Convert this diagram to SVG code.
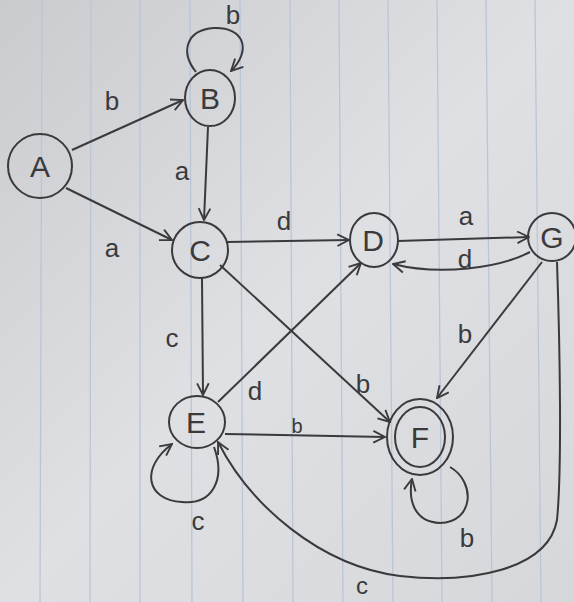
<svg xmlns="http://www.w3.org/2000/svg" width="574" height="602" viewBox="0 0 574 602">
<defs>
<linearGradient id="bg" x1="0" y1="0" x2="1" y2="1">
<stop offset="0" stop-color="#c9cbcf"/>
<stop offset="0.5" stop-color="#dfe0e3"/>
<stop offset="1" stop-color="#d6d7da"/>
</linearGradient>
<marker id="arr" viewBox="0 0 12 12" refX="11" refY="6" markerWidth="14" markerHeight="14" markerUnits="userSpaceOnUse" orient="auto">
<path d="M1,1 L11,6 L1,11" fill="none" stroke="#3a3a3c" stroke-width="1.6"/>
</marker>
<style>
.n{fill:none;stroke:#3a3a3c;stroke-width:2}
.e{fill:none;stroke:#3a3a3c;stroke-width:2;marker-end:url(#arr)}
.t{font-family:"Liberation Sans",Arial,sans-serif;fill:#3a3a3c;text-anchor:middle}
.nl{font-size:30px}
.el{font-size:26px}
.pl{stroke:#b9c6d6;stroke-width:1.3}
</style>
</defs>
<rect width="574" height="602" fill="url(#bg)"/>
<g id="paper-lines">
<line class="pl" x1="42" y1="0" x2="40" y2="602"/>
<line class="pl" x1="91" y1="0" x2="90" y2="602"/>
<line class="pl" x1="140" y1="0" x2="140" y2="602"/>
<line class="pl" x1="190" y1="0" x2="192" y2="602"/>
<line class="pl" x1="240" y1="0" x2="243" y2="602"/>
<line class="pl" x1="290" y1="0" x2="293" y2="602"/>
<line class="pl" x1="339" y1="0" x2="343" y2="602"/>
<line class="pl" x1="388" y1="0" x2="393" y2="602"/>
<line class="pl" x1="437" y1="0" x2="442" y2="602"/>
<line class="pl" x1="486" y1="0" x2="492" y2="602"/>
<line class="pl" x1="535" y1="0" x2="541" y2="602"/>
</g>
<g id="connectors">
<path class="e" d="M72,150 L183,100"/>
<path class="e" d="M66,188 L172,240"/>
<path class="e" d="M208,127 L204,220"/>
<path class="e" d="M196,72 C180,52 186,30 214,28 C244,27 252,50 231,71"/>
<path class="e" d="M227,242 L349,240"/>
<path class="e" d="M202,278 L203,395"/>
<path class="e" d="M220,265 L390,422"/>
<path class="e" d="M398,241 L529,237"/>
<path class="e" d="M530,252 C500,268 440,276 393,264"/>
<path class="e" d="M218,402 L361,263"/>
<path class="e" d="M225,434 L385,437"/>
<path class="e" d="M542,262 L437,398"/>
<path class="e" d="M557,262 C560,350 562,470 557,520 C548,570 470,584 400,576 C320,566 250,505 218,442"/>
<path class="e" d="M214,447 C226,480 212,505 182,502 C146,500 140,468 172,444"/>
<path class="e" d="M450,467 C476,482 474,522 440,523 C414,522 408,500 412,479"/>
</g>
<g id="edge-labels" class="t el">
<text x="112" y="110">b</text>
<text x="233" y="24">b</text>
<text x="182" y="180">a</text>
<text x="112" y="257">a</text>
<text x="284" y="230">d</text>
<text x="466" y="225">a</text>
<text x="465" y="268">d</text>
<text x="465" y="343">b</text>
<text x="172" y="347">c</text>
<text x="255" y="400">d</text>
<text x="363" y="393">b</text>
<text x="297" y="433" font-size="20">b</text>
<text x="198" y="530">c</text>
<text x="467" y="547">b</text>
<text x="362" y="594" font-size="24">c</text>
</g>
<g id="node-A"><circle class="n" cx="40" cy="166" r="32"/><text class="t nl" x="40" y="177">A</text></g>
<g id="node-B"><ellipse class="n" cx="210" cy="98" rx="25" ry="28"/><text class="t nl" x="210" y="109">B</text></g>
<g id="node-C"><circle class="n" cx="200" cy="250" r="28"/><text class="t nl" x="200" y="261">C</text></g>
<g id="node-D"><ellipse class="n" cx="374" cy="240" rx="24" ry="27"/><text class="t nl" x="373" y="251">D</text></g>
<g id="node-G"><circle class="n" cx="552" cy="237" r="24"/><text class="t nl" x="552" y="248">G</text></g>
<g id="node-E"><ellipse class="n" cx="197" cy="422" rx="28" ry="26"/><text class="t nl" x="196" y="433">E</text></g>
<g id="node-F"><ellipse class="n" cx="420" cy="437" rx="33" ry="38"/><ellipse class="n" cx="420" cy="437" rx="25" ry="30"/><text class="t nl" x="420" y="448">F</text></g>
</svg>
